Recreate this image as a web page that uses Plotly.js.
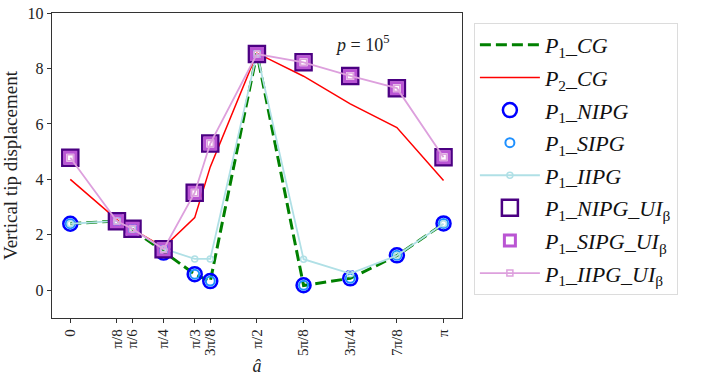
<!DOCTYPE html>
<html>
<head>
<meta charset="utf-8">
<script src="https://cdn.plot.ly/plotly-3.0.1.min.js"></script>
<style>
  html, body { margin: 0; padding: 0; background: #fff; }
  #chart { width: 706px; height: 387px; }
</style>
</head>
<body>
<div id="chart"></div>
<script>
const PI = Math.PI;
const angles = [0, PI / 8, PI / 6, PI / 4, PI / 3, 3 * PI / 8, PI / 2, 5 * PI / 8, 3 * PI / 4, 7 * PI / 8, PI];
const angleLabels = ['0', 'π/8', 'π/6', 'π/4', 'π/3', '3π/8', 'π/2', '5π/8', '3π/4', '7π/8', 'π'];

const p1CG   = [2.40, 2.50, 2.20, 1.38, 0.58, 0.32, 8.55, 0.17, 0.43, 1.25, 2.40];
const p2CG   = [4.00, 2.55, 2.20, 1.55, 2.62, 4.45, 8.55, 7.72, 6.72, 5.87, 3.96];
const p1NIPG = [2.40, 2.50, 2.20, 1.36, 0.58, 0.33, 8.55, 0.18, 0.43, 1.26, 2.41];
const p1SIPG = [2.40, 2.50, 2.20, 1.36, 0.58, 0.33, 8.55, 0.18, 0.43, 1.26, 2.41];
const p1IIPG = [2.40, 2.50, 2.20, 1.50, 1.13, 1.13, 8.55, 1.12, 0.60, 1.25, 2.40];
const p1NIPGUI = [4.78, 2.49, 2.22, 1.48, 3.52, 5.29, 8.52, 8.22, 7.73, 7.29, 4.80];
const p1SIPGUI = [4.78, 2.49, 2.22, 1.48, 3.52, 5.29, 8.52, 8.22, 7.73, 7.29, 4.80];
const p1IIPGUI = [4.78, 2.49, 2.22, 1.48, 3.52, 5.29, 8.52, 8.22, 7.73, 7.29, 4.80];

const serif = "'Liberation Serif', 'DejaVu Serif', serif";

const traces = [
  {
    x: angles, y: p1CG, name: '<i>P</i><sub>1</sub>_<i>CG</i>', legendgroup: 'a',
    mode: 'lines', type: 'scatter',
    line: {color: 'green', width: 3, dash: '11px,5px'}
  },
  {
    x: angles, y: p2CG, name: '<i>P</i><sub>2</sub>_<i>CG</i>', legendgroup: 'b',
    mode: 'lines', type: 'scatter',
    line: {color: 'red', width: 1.5}
  },
  {
    x: angles, y: p1NIPG, name: '<i>P</i><sub>1</sub>_<i>NIPG</i>', legendgroup: 'c',
    mode: 'markers', type: 'scatter',
    marker: {symbol: 'circle-open', size: 14, color: 'blue', line: {color: 'blue', width: 2.5}}
  },
  {
    x: angles, y: p1SIPG, name: '<i>P</i><sub>1</sub>_<i>SIPG</i>', legendgroup: 'd',
    mode: 'markers', type: 'scatter',
    marker: {symbol: 'circle-open', size: 9, color: 'dodgerblue', line: {color: 'dodgerblue', width: 2}}
  },
  {
    x: angles, y: p1IIPG, name: '<i>P</i><sub>1</sub>_<i>IIPG</i>', legendgroup: 'e',
    mode: 'lines+markers', type: 'scatter',
    line: {color: 'powderblue', width: 1.8},
    marker: {symbol: 'circle-open', size: 6, color: 'powderblue', line: {color: 'powderblue', width: 1.5}}
  },
  {
    x: angles, y: p1NIPGUI, name: '<i>P</i><sub>1</sub>_<i>NIPG</i>_<i>UI</i><sub>β</sub>', legendgroup: 'f',
    mode: 'markers', type: 'scatter',
    marker: {symbol: 'square-open', size: 16, color: 'indigo', line: {color: '#5a1f96', width: 2.5}}
  },
  {
    x: angles, y: p1SIPGUI, name: '<i>P</i><sub>1</sub>_<i>SIPG</i>_<i>UI</i><sub>β</sub>', legendgroup: 'g',
    mode: 'markers', type: 'scatter',
    marker: {symbol: 'square-open', size: 11, color: 'mediumorchid', line: {color: 'mediumorchid', width: 3}}
  },
  {
    x: angles, y: p1IIPGUI, name: '<i>P</i><sub>1</sub>_<i>IIPG</i>_<i>UI</i><sub>β</sub>', legendgroup: 'h',
    mode: 'lines+markers', type: 'scatter',
    line: {color: 'plum', width: 1.8},
    marker: {symbol: 'square-open', size: 6, color: 'plum', line: {color: 'plum', width: 1.5}}
  }
];

const layout = {
  width: 706,
  height: 387,
  margin: {l: 52, r: 244, t: 13, b: 69},
  paper_bgcolor: '#ffffff',
  plot_bgcolor: '#ffffff',
  font: {family: serif, size: 15, color: '#222'},
  showlegend: true,
  legend: {
    x: 1.029, y: 0.967, xanchor: 'left', yanchor: 'top',
    bgcolor: '#ffffff', bordercolor: '#dcdcdc', borderwidth: 1,
    font: {family: serif, size: 22, color: '#111'},
    itemwidth: 60,
    tracegroupgap: 1
  },
  xaxis: {
    range: [-0.154, 3.297],
    tickvals: angles,
    ticktext: angleLabels,
    tickangle: -90,
    ticks: 'outside', ticklen: 4, tickcolor: '#333',
    showgrid: false, zeroline: false,
    showline: true, linecolor: '#333', linewidth: 1.3, mirror: true,
    tickfont: {family: serif, size: 15, color: '#222'},
    title: {text: '<i>â</i>', font: {family: serif, size: 18, color: '#222'}, standoff: 4}
  },
  yaxis: {
    range: [-1, 10],
    tickvals: [0, 2, 4, 6, 8, 10],
    ticks: 'outside', ticklen: 4, tickcolor: '#333',
    showgrid: false, zeroline: false,
    showline: true, linecolor: '#333', linewidth: 1.3, mirror: true,
    tickfont: {family: serif, size: 16, color: '#222'},
    title: {text: 'Vertical tip displacement', font: {family: serif, size: 19, color: '#222'}, standoff: 10}
  },
  annotations: [{
    xref: 'paper', yref: 'paper', x: 0.827, y: 0.945,
    text: '<i>p</i> = 10<sup>5</sup>', showarrow: false,
    font: {family: serif, size: 18, color: '#222'}
  }]
};

Plotly.newPlot('chart', traces, layout, {displayModeBar: false, staticPlot: true});
</script>
</body>
</html>
